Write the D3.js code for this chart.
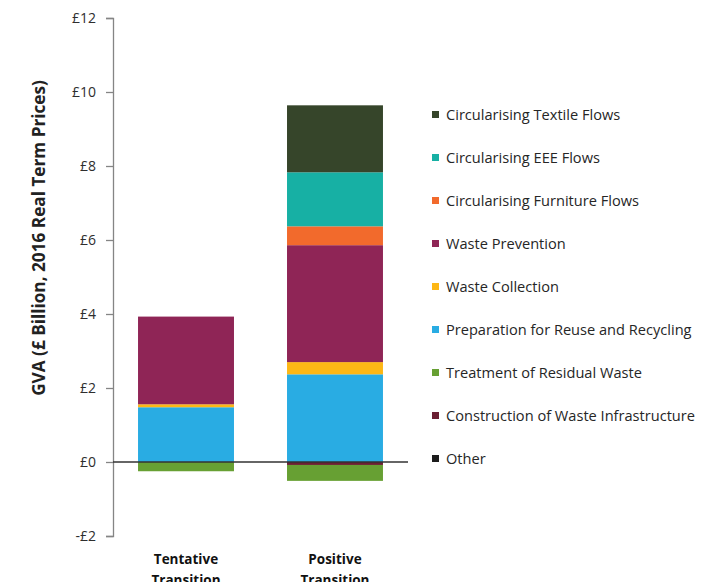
<!DOCTYPE html>
<html>
<head>
<meta charset="utf-8">
<script src="https://cdn.jsdelivr.net/npm/d3@7"></script>
<style>
  html, body { margin: 0; padding: 0; background: #ffffff; }
  svg { display: block; }
  text { font-family: "Open Sans", "Noto Sans", sans-serif; }
</style>
</head>
<body>
<svg id="chart" width="710" height="582"></svg>
<script>
// Scenario categories
const categories = ["Tentative Transition", "Positive Transition"];

// GVA contribution by activity, £ billion (2016 real term prices)
const textileFlows   = [0.00, 1.81];
const eeeFlows       = [0.00, 1.46];
const furnitureFlows = [0.00, 0.51];
const wastePrevention = [2.37, 3.16];
const wasteCollection = [0.08, 0.33];
const reuseRecycling  = [1.48, 2.37];
const residualWaste   = [-0.25, -0.43];
const infrastructure  = [0.00, -0.08];
const otherActivity   = [0.00, 0.00];

// Series, listed in legend order (top to bottom)
const seriesNames = [
  "Circularising Textile Flows",
  "Circularising EEE Flows",
  "Circularising Furniture Flows",
  "Waste Prevention",
  "Waste Collection",
  "Preparation for Reuse and Recycling",
  "Treatment of Residual Waste",
  "Construction of Waste Infrastructure",
  "Other"
];
const seriesValues = [
  textileFlows, eeeFlows, furnitureFlows, wastePrevention, wasteCollection,
  reuseRecycling, residualWaste, infrastructure, otherActivity
];
const seriesColors = [
  "#36452a", "#17b0a4", "#f26a2c", "#8f2556", "#fdb715",
  "#29ace3", "#67a033", "#6b1f33", "#1c1c1c"
];

const yTicks = [-2, 0, 2, 4, 6, 8, 10, 12];
const yAxisTitle = "GVA (£ Billion, 2016 Real Term Prices)";

// Rows for the stack layout
const rows = categories.map((c, i) => {
  const r = { category: c };
  seriesNames.forEach((s, j) => { r[s] = seriesValues[j][i]; });
  return r;
});

// Stack from the bottom up: reverse of legend order
const stackKeys = seriesNames.slice().reverse();
const stacked = d3.stack()
  .keys(stackKeys)
  .offset(d3.stackOffsetDiverging)(rows);

const svg = d3.select("#chart");

const x = d3.scaleBand()
  .domain(categories)
  .range([113, 408])
  .paddingInner(0.356)
  .paddingOuter(0.168);

const y = d3.scaleLinear()
  .domain([-2, 12])
  .range([536, 18]);

const colorOf = d3.scaleOrdinal().domain(seriesNames).range(seriesColors);

// Bars
svg.append("g")
  .selectAll("g")
  .data(stacked)
  .join("g")
  .attr("fill", d => colorOf(d.key))
  .selectAll("rect")
  .data(d => d)
  .join("rect")
  .attr("x", d => x(d.data.category))
  .attr("width", x.bandwidth())
  .attr("y", d => y(Math.max(d[0], d[1])))
  .attr("height", d => Math.abs(y(d[0]) - y(d[1])));

// Y axis
const yAxis = d3.axisLeft(y)
  .tickValues(yTicks)
  .tickSize(7)
  .tickPadding(10)
  .tickFormat(v => (v < 0 ? "-£" : "£") + Math.abs(v));

const gy = svg.append("g")
  .attr("transform", "translate(113,0)")
  .call(yAxis);
gy.select(".domain").attr("stroke", "#858585").attr("stroke-width", 1.3);
gy.selectAll(".tick line").attr("stroke", "#858585").attr("stroke-width", 1.3);
gy.selectAll(".tick text")
  .attr("fill", "#2e2e2e")
  .style("font-size", "14px");

// Zero baseline
svg.append("line")
  .attr("x1", 113).attr("x2", 408)
  .attr("y1", y(0)).attr("y2", y(0))
  .attr("stroke", "#333333")
  .attr("stroke-width", 1.4);

// Y axis title
svg.append("text")
  .attr("transform", `translate(45,${(y(-2) + y(12)) / 2 - 39}) rotate(-90)`)
  .attr("text-anchor", "middle")
  .attr("fill", "#222222")
  .style("font-size", "17.2px")
  .style("font-weight", "700")
  .text(yAxisTitle);

// Category labels (two lines)
const catLabels = svg.append("g")
  .selectAll("text")
  .data(categories)
  .join("text")
  .attr("text-anchor", "middle")
  .attr("fill", "#111111")
  .style("font-size", "13.5px")
  .style("font-weight", "700");
catLabels.selectAll("tspan")
  .data(d => d.split(" ").map(w => ({ w, c: d })))
  .join("tspan")
  .attr("x", d => x(d.c) + x.bandwidth() / 2)
  .attr("y", (d, i) => 564 + i * 21)
  .text(d => d.w);

// Legend
const legend = svg.append("g")
  .selectAll("g")
  .data(seriesNames)
  .join("g")
  .attr("transform", (d, i) => `translate(432,${115 + i * 43})`);
legend.append("rect")
  .attr("x", 0).attr("y", -4)
  .attr("width", 7).attr("height", 7)
  .attr("fill", d => colorOf(d));
legend.append("text")
  .attr("x", 14)
  .attr("y", 0)
  .attr("dy", "0.35em")
  .attr("fill", "#262626")
  .style("font-size", "14.6px")
  .text(d => d);
</script>
</body>
</html>
